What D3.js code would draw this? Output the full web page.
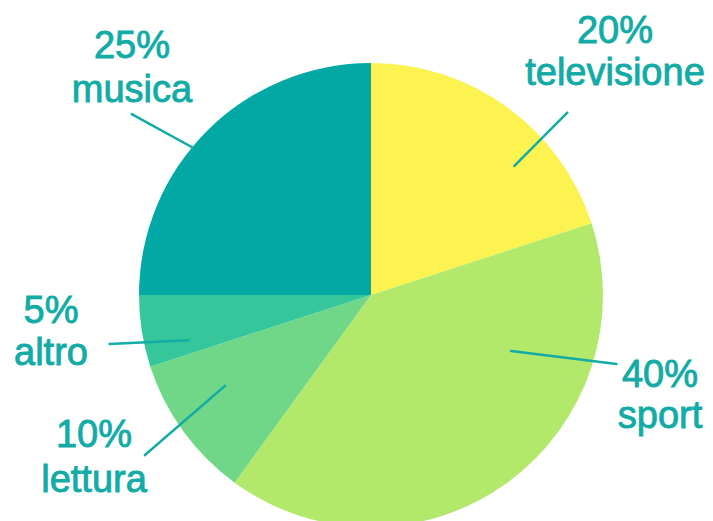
<!DOCTYPE html>
<html>
<head>
<meta charset="utf-8">
<script src="https://cdn.jsdelivr.net/npm/d3@7"></script>
<style>
  html, body { margin: 0; padding: 0; background: #ffffff; }
  svg { display: block; }
</style>
</head>
<body>
<svg id="chart" width="713" height="521"></svg>
<script>
// Tempo libero: share of each activity (percent)
const categories = ["televisione", "sport", "lettura", "altro", "musica"];
const values = [20, 40, 10, 5, 25];
const colors = ["#FCF350", "#B2E96B", "#6FD787", "#35C79B", "#02A8A4"];

// Label placement: anchor (center of first text line) relative to pie center,
// leader line given in polar form (degrees clockwise from 12 o'clock, radius in px)
const labelLayout = [
  { dx: 244, dy: -252, gap: 42, lineFrom: { a: 48.0, r: 193 }, lineTo: { a: 47.1, r: 268 } },
  { dx: 289, dy: 92,   gap: 41, lineFrom: { a: 111.8, r: 151 }, lineTo: { a: 105.7, r: 255 } },
  { dx: -277, dy: 152, gap: 45, lineFrom: { a: 238.1, r: 172 }, lineTo: { a: 234.7, r: 277 } },
  { dx: -320, dy: 28,  gap: 42, lineFrom: { a: 256.1, r: 188 }, lineTo: { a: 259.4, r: 266 } },
  { dx: -239, dy: -237, gap: 44, lineFrom: { a: 309.6, r: 231 }, lineTo: { a: 307.1, r: 300 } }
];

const width = 713, height = 521;
const cx = 371, cy = 295, radius = 232;
const textColor = "#12ABA6";

const svg = d3.select("#chart");
const g = svg.append("g").attr("transform", `translate(${cx},${cy})`);

const data = categories.map((c, i) => ({ name: c, value: values[i], color: colors[i], layout: labelLayout[i] }));

const pie = d3.pie().value(d => d.value).sort(null);
const arc = d3.arc().innerRadius(0).outerRadius(radius);
const arcs = pie(data);

g.selectAll("path.slice")
  .data(arcs)
  .enter().append("path")
  .attr("class", "slice")
  .attr("d", arc)
  .attr("fill", d => d.data.color);

const polar = p => {
  const t = p.a * Math.PI / 180;
  return [p.r * Math.sin(t), -p.r * Math.cos(t)];
};

// Leader lines
g.selectAll("line.leader")
  .data(arcs)
  .enter().append("line")
  .attr("class", "leader")
  .attr("x1", d => polar(d.data.layout.lineFrom)[0])
  .attr("y1", d => polar(d.data.layout.lineFrom)[1])
  .attr("x2", d => polar(d.data.layout.lineTo)[0])
  .attr("y2", d => polar(d.data.layout.lineTo)[1])
  .attr("stroke", textColor)
  .attr("stroke-width", 2.5)
  .attr("stroke-linecap", "round");

// Labels: percentage on top, category name below
const labels = g.selectAll("text.label")
  .data(arcs)
  .enter().append("text")
  .attr("class", "label")
  .attr("text-anchor", "middle")
  .attr("font-family", "'Liberation Sans', Arial, Helvetica, sans-serif")
  .attr("font-size", 38)
  .attr("fill", textColor)
  .attr("stroke", textColor)
  .attr("stroke-width", 0.9)
  .attr("transform", d => `translate(${d.data.layout.dx},${d.data.layout.dy})`);

labels.append("tspan")
  .attr("x", 0)
  .attr("y", 0)
  .text(d => Math.round((d.endAngle - d.startAngle) / (2 * Math.PI) * 100) + "%");

labels.append("tspan")
  .attr("x", 0)
  .attr("dy", d => d.data.layout.gap)
  .text(d => d.data.name);
</script>
</body>
</html>
